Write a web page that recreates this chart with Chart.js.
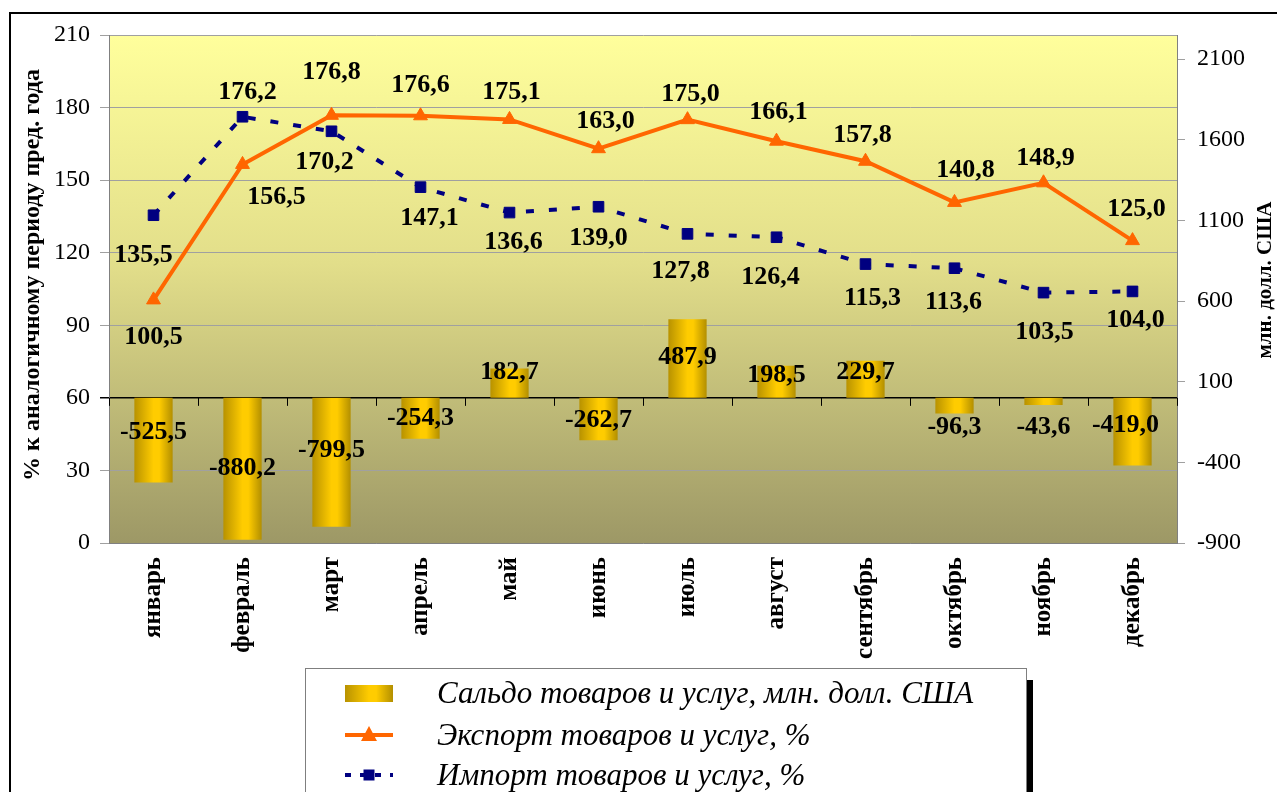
<!DOCTYPE html>
<html lang="ru">
<head>
<meta charset="utf-8">
<title>Сальдо, экспорт и импорт товаров и услуг</title>
<script src="https://cdn.jsdelivr.net/npm/chart.js@4.4.1/dist/chart.umd.min.js"></script>
<style>
  html, body { margin: 0; padding: 0; background: #fff; overflow: hidden; }
  #wrap { position: relative; width: 1277px; height: 792px; overflow: hidden; }
  #frame { position: absolute; left: 9px; top: 12px; width: 1400px; height: 900px; border: 2px solid #000; box-sizing: border-box; }
  #chart { position: absolute; left: 0; top: 0; }
  #legend { position: absolute; left: 305px; top: 668px; width: 720px; height: 160px; background: #fff;
            border: 1px solid #7f7f7f; box-shadow: 6px 12px 0 #000;
            font: italic 31px 'Liberation Serif', 'Times New Roman', serif; color: #000; }
  #legend .row { position: absolute; left: 0; height: 40px; display: flex; align-items: center; white-space: nowrap; }
  #legend canvas { margin-left: 39px; margin-right: 44px; }
</style>
</head>
<body>
<div id="wrap">
  <div id="frame"></div>
  <canvas id="chart" width="1277" height="792"></canvas>
  <div id="legend"></div>
</div>
<script>
// Data
const months = ['январь', 'февраль', 'март', 'апрель', 'май', 'июнь',
                'июль', 'август', 'сентябрь', 'октябрь', 'ноябрь', 'декабрь'];
const saldo = [-525.5, -880.2, -799.5, -254.3, 182.7, -262.7, 487.9, 198.5, 229.7, -96.3, -43.6, -419.0];
const exportPct = [100.5, 156.5, 176.8, 176.6, 175.1, 163.0, 175.0, 166.1, 157.8, 140.8, 148.9, 125.0];
const importPct = [135.5, 176.2, 170.2, 147.1, 136.6, 139.0, 127.8, 126.4, 115.3, 113.6, 103.5, 104.0];
const rightTicks = [-900, -400, 100, 600, 1100, 1600, 2100];

const seriesNames = ['Сальдо товаров и услуг, млн. долл. США',
                     'Экспорт товаров и услуг, %',
                     'Импорт товаров и услуг, %'];
const leftTitle = '% к аналогичному периоду пред. года';
const rightTitle = 'млн. долл. США';

// Where each value label sits relative to its mark, px [dx, dy]
const saldoLabelShift = [[0, -50], [0, -72], [0, -77], [0, -21], [0, 4], [0, -20],
                         [0, 38], [0, 9], [0, 11], [0, 14], [0, 22], [-7, -40]];
const exportLabelShift = [[0, 37], [34, 33], [0, -43], [0, -31], [2, -27], [7, -27],
                          [3, -25], [2, -29], [-3, -26], [11, -32], [2, -25], [4, -31]];
const importLabelShift = [[-10, 40], [5, -24], [-7, 31], [9, 31], [4, 30], [0, 32],
                          [-7, 37], [-6, 40], [7, 34], [-1, 34], [1, 40], [3, 29]];

const SERIF = "'Liberation Serif', 'Times New Roman', serif";
const ORANGE = '#FF6600';
const NAVY = '#000080';
const BAR_PCT = 0.43;

function fmt(v) {
  return v.toFixed(1).replace('.', ',');
}

// Gold gradient across a bar
function goldGradient(ctx, x0, x1) {
  const g = ctx.createLinearGradient(x0, 0, x1, 0);
  g.addColorStop(0, '#B89200');
  g.addColorStop(0.5, '#FFCC00');
  g.addColorStop(0.65, '#FFCC00');
  g.addColorStop(1, '#B38F00');
  return g;
}

// Per bar gradient, placed with the category scale
function barFill(c) {
  const x = c.chart.scales.x;
  if (!x || c.dataIndex === undefined) return '#FFCC00';
  const cx = x.getPixelForValue(c.dataIndex);
  const w = (x.width / months.length) * BAR_PCT;
  if (!Number.isFinite(cx) || !Number.isFinite(w) || w <= 0) return '#FFCC00';
  return goldGradient(c.chart.ctx, cx - w / 2, cx + w / 2);
}

// Plot background, zero axis ticks, value labels, axis titles
const decorPlugin = {
  id: 'decor',
  beforeDraw(chart) {
    const { ctx, chartArea: a } = chart;
    const g = ctx.createLinearGradient(0, a.top, 0, a.bottom);
    g.addColorStop(0, '#FFFF9C');
    g.addColorStop(0.45, '#E2DE8A');
    g.addColorStop(1, '#9D9866');
    ctx.save();
    ctx.fillStyle = g;
    ctx.fillRect(a.left, a.top, a.right - a.left, a.bottom - a.top);
    ctx.restore();
  },
  beforeDatasetsDraw(chart) {
    const { ctx, scales } = chart;
    // tick marks on the category axis crossing at zero
    const y0 = scales.y1.getPixelForValue(0);
    ctx.save();
    ctx.strokeStyle = '#000';
    ctx.lineWidth = 1;
    for (let i = 0; i <= months.length; i++) {
      const x = Math.round(scales.x.getPixelForValue(i - 0.5)) + 0.5;
      ctx.beginPath();
      ctx.moveTo(x, y0);
      ctx.lineTo(x, y0 + 8);
      ctx.stroke();
    }
    ctx.restore();
  },
  afterDatasetsDraw(chart) {
    const { ctx } = chart;
    const shifts = [saldoLabelShift, exportLabelShift, importLabelShift];
    ctx.save();
    ctx.fillStyle = '#000';
    ctx.font = 'bold 26px ' + SERIF;
    ctx.textAlign = 'center';
    ctx.textBaseline = 'middle';
    chart.data.datasets.forEach((ds, di) => {
      chart.getDatasetMeta(di).data.forEach((el, i) => {
        const s = shifts[di][i];
        ctx.fillText(fmt(ds.data[i]), el.x + s[0], el.y + s[1]);
      });
    });
    ctx.restore();
  },
  afterDraw(chart) {
    const { ctx } = chart;
    ctx.save();
    ctx.fillStyle = '#000';
    ctx.font = 'bold 24px ' + SERIF;
    ctx.textAlign = 'center';
    ctx.textBaseline = 'middle';
    ctx.translate(33, 275);
    ctx.rotate(-Math.PI / 2);
    ctx.fillText(leftTitle, 0, 0);
    ctx.restore();
    ctx.save();
    ctx.fillStyle = '#000';
    ctx.font = 'bold 21px ' + SERIF;
    ctx.textAlign = 'center';
    ctx.textBaseline = 'middle';
    ctx.translate(1266, 280);
    ctx.rotate(-Math.PI / 2);
    ctx.fillText(rightTitle, 0, 0);
    ctx.restore();
  }
};

const chart = new Chart(document.getElementById('chart'), {
  type: 'bar',
  data: {
    labels: months,
    datasets: [{
      type: 'bar',
      label: seriesNames[0],
      data: saldo,
      yAxisID: 'y1',
      backgroundColor: barFill,
      borderWidth: 0,
      categoryPercentage: 1,
      barPercentage: BAR_PCT,
      order: 3
    }, {
      type: 'line',
      label: seriesNames[1],
      data: exportPct,
      yAxisID: 'y',
      borderColor: ORANGE,
      backgroundColor: ORANGE,
      borderWidth: 4,
      pointStyle: 'triangle',
      pointRadius: 8,
      pointBorderWidth: 1,
      tension: 0,
      order: 1
    }, {
      type: 'line',
      label: seriesNames[2],
      data: importPct,
      yAxisID: 'y',
      borderColor: NAVY,
      backgroundColor: NAVY,
      borderWidth: 4,
      borderDash: [8, 15],
      pointStyle: 'rect',
      pointRadius: 7.5,
      pointBorderWidth: 1,
      tension: 0,
      order: 2
    }]
  },
  options: {
    responsive: false,
    animation: false,
    layout: { padding: { top: 35, left: 0, right: 0, bottom: 0 } },
    plugins: {
      legend: { display: false },
      tooltip: { enabled: false }
    },
    scales: {
      x: {
        grid: { display: false, drawTicks: false },
        border: { display: true, color: '#808080', width: 1 },
        ticks: {
          autoSkip: false, maxRotation: 90, minRotation: 90, padding: 14,
          color: '#000', font: { family: SERIF, size: 25, weight: 'bold' }
        },
        afterFit(scale) { scale.height = 249; }
      },
      y: {
        position: 'left',
        min: 0, max: 210,
        ticks: { stepSize: 30, padding: 10, color: '#000', font: { family: SERIF, size: 24 } },
        grid: {
          color: c => (c.tick && c.tick.value === 60 ? '#000' : '#a0a0a0'),
          lineWidth: c => (c.tick && c.tick.value === 60 ? 1.5 : 1),
          tickLength: 9
        },
        border: { color: '#808080', width: 1 },
        afterFit(scale) { scale.width = 109; }
      },
      y1: {
        position: 'right',
        min: -900, max: 2250,
        afterBuildTicks(scale) { scale.ticks = rightTicks.map(v => ({ value: v })); },
        ticks: {
          padding: 12, color: '#000', font: { family: SERIF, size: 24 },
          callback: v => String(v)
        },
        grid: { drawOnChartArea: false, color: '#a0a0a0', tickLength: 8 },
        border: { color: '#808080', width: 1 },
        afterFit(scale) { scale.width = 100; }
      }
    }
  },
  plugins: [decorPlugin]
});

// Legend built from the chart's datasets
const legend = document.getElementById('legend');
const rowTops = [4, 46, 86];
chart.data.datasets.forEach((ds, i) => {
  const row = document.createElement('div');
  row.className = 'row';
  row.style.top = rowTops[i] + 'px';
  const sw = document.createElement('canvas');
  sw.width = 48; sw.height = 24;
  const c = sw.getContext('2d');
  if (ds.type === 'bar') {
    c.fillStyle = goldGradient(c, 0, 48);
    c.fillRect(0, 4, 48, 17);
  } else {
    c.strokeStyle = ds.borderColor;
    c.lineWidth = ds.borderWidth;
    if (ds.borderDash) c.setLineDash([6, 9]);
    c.beginPath();
    c.moveTo(0, 12);
    c.lineTo(48, 12);
    c.stroke();
    c.setLineDash([]);
    c.fillStyle = ds.backgroundColor;
    c.beginPath();
    if (ds.pointStyle === 'triangle') {
      c.moveTo(24, 3); c.lineTo(32, 18); c.lineTo(16, 18); c.closePath();
    } else {
      c.rect(18.5, 6.5, 11, 11);
    }
    c.fill();
  }
  row.appendChild(sw);
  const t = document.createElement('span');
  t.textContent = ds.label;
  row.appendChild(t);
  legend.appendChild(row);
});
</script>
</body>
</html>
